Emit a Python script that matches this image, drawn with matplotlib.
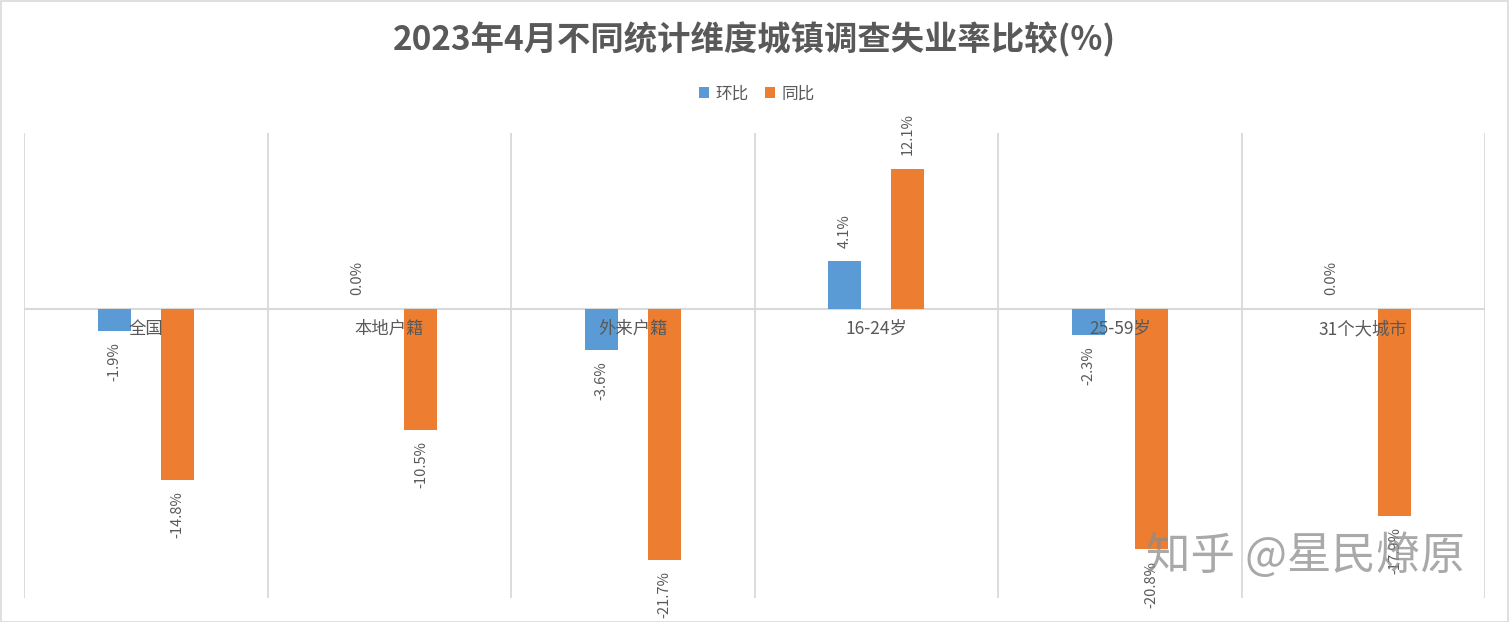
import matplotlib
matplotlib.use("Agg")
import matplotlib.pyplot as plt
import numpy as np
from matplotlib.patches import Rectangle

plt.rcParams['font.family'] = ['Noto Sans CJK SC', 'DejaVu Sans']

categories = ["全国", "本地户籍", "外来户籍", "16-24岁", "25-59岁", "31个大城市"]
mom = [-1.9, 0.0, -3.6, 4.1, -2.3, 0.0]      # 环比
yoy = [-14.8, -10.5, -21.7, 12.1, -20.8, -17.9]  # 同比
series_names = ["环比", "同比"]
colors = ["#5B9BD5", "#ED7D31"]
title = "2023年4月不同统计维度城镇调查失业率比较(%)"

W, H = 1509, 622
fig = plt.figure(figsize=(W / 100, H / 100), dpi=100)
fig.patch.set_facecolor("white")
fig.patches.append(Rectangle((0.5 / W, 0.5 / H), 1 - 1.5 / W, 1 - 1.5 / H,
                             transform=fig.transFigure, fill=False,
                             edgecolor="#D9D9D9", linewidth=1.2))

ax = fig.add_axes([24 / W, (H - 598) / H, (1485 - 24) / W, (598 - 133) / H])
x = np.arange(len(categories))
bw = 0.135
off = 0.13
b1 = ax.bar(x - off, mom, bw, color=colors[0], label=series_names[0], zorder=3)
b2 = ax.bar(x + off, yoy, bw, color=colors[1], label=series_names[1], zorder=3)

ax.set_xlim(-0.5, len(categories) - 0.5)
ax.set_ylim(-25, 15.2)
for s in ax.spines.values():
    s.set_visible(False)
ax.set_xticks([])
ax.set_yticks([])
for k in range(len(categories) + 1):
    ax.axvline(k - 0.5, color="#D9D9D9", lw=1.3, zorder=1)
ax.axhline(0, color="#D9D9D9", lw=1.5, zorder=2)

for xi, lab in zip(x, categories):
    ax.annotate(lab, (xi, 0), xytext=(0, -8), textcoords="offset points",
                ha="center", va="top", fontsize=12.5, color="#595959", zorder=4)

for xs, vals in ((x - off, mom), (x + off, yoy)):
    for xi, v in zip(xs, vals):
        if v >= 0:
            ax.annotate(f"{v:.1f}%", (xi, v), xytext=(0, 10), textcoords="offset points",
                        ha="center", va="bottom", rotation=90, fontsize=10.5,
                        color="#595959", zorder=4)
        else:
            ax.annotate(f"{v:.1f}%", (xi, v), xytext=(0, -8), textcoords="offset points",
                        ha="center", va="top", rotation=90, fontsize=10.5,
                        color="#595959", zorder=4)

fig.text(754 / W, 1 - 40 / H, title, ha="center", va="center", fontsize=24,
         fontweight="bold", color="#595959")

leg = fig.legend(handles=[b1, b2], labels=series_names, loc="center",
                 bbox_to_anchor=(757 / W, 1 - 94 / H), ncol=2, frameon=False,
                 fontsize=12, handlelength=0.6, handleheight=0.6,
                 handletextpad=0.4, columnspacing=1.0)
for t in leg.get_texts():
    t.set_color("#595959")

fig.text(1306 / W, 1 - 556 / H, "知乎 @星民燎原", ha="center", va="center",
         fontsize=32, color="#8C8C8C", alpha=0.75, zorder=10)

fig.savefig("out.png", dpi=100)
